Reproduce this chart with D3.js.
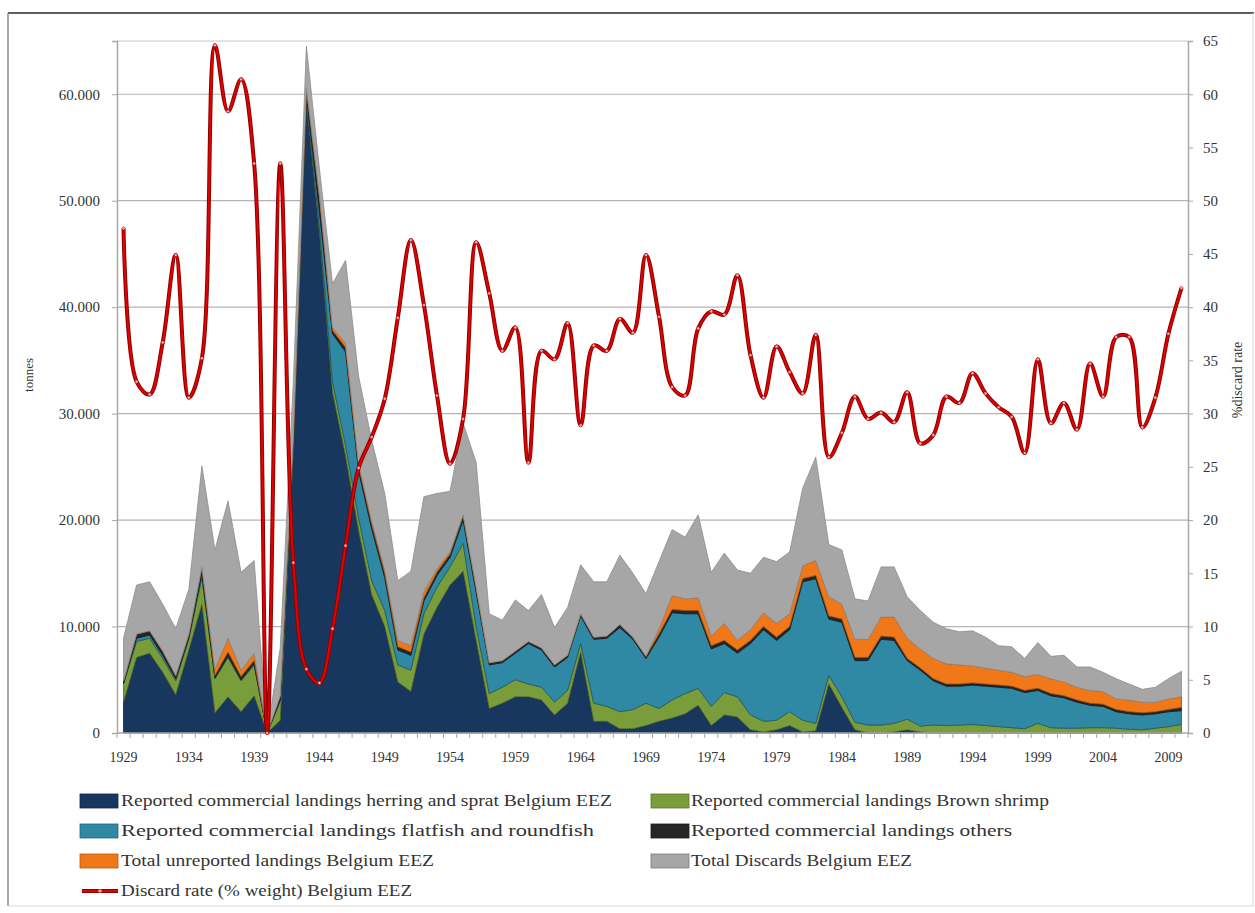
<!DOCTYPE html>
<html><head><meta charset="utf-8">
<script src="https://cdn.jsdelivr.net/npm/d3@7"></script>
<style>body{margin:0;background:#fff}</style>
</head><body><svg id="c" width="1255" height="913"></svg>
<script>
const years = [1929,1930,1931,1932,1933,1934,1935,1936,1937,1938,1939,1940,
1941,1942,1943,1944,1945,1946,1947,1948,1949,1950,
1951,1952,1953,1954,1955,1956,1957,1958,1959,1960,
1961,1962,1963,1964,1965,1966,1967,1968,1969,1970,
1971,1972,1973,1974,1975,1976,1977,1978,1979,1980,
1981,1982,1983,1984,1985,1986,1987,1988,1989,1990,
1991,1992,1993,1994,1995,1996,1997,1998,1999,2000,
2001,2002,2003,2004,2005,2006,2007,2008,2009,2010];

// tonnes
const herring = [2900,7100,7500,5700,3600,7800,12100,1900,3400,2000,3500,0,
1200,26500,59500,47000,32000,26000,19000,13000,10000,4800,
3900,9300,11800,13900,15200,8700,2300,2800,3400,3400,
3100,1700,2800,7600,1100,1100,400,400,700,1100,
1400,1800,2600,700,1700,1500,300,100,300,700,
100,200,4600,2400,300,0,0,100,300,100,
0,0,0,0,0,0,0,0,0,0,
0,0,0,0,0,0,0,0,0,0];
const shrimp = [1700,1500,1400,1300,1300,1000,2500,3200,3700,2900,2900,0,
1800,500,300,500,1000,1000,1200,1300,1500,1600,
2000,1900,1900,1700,2600,1300,1400,1500,1600,1200,
1200,1200,1200,800,1700,1400,1600,1800,2100,1200,
1700,1900,1600,1800,2100,1900,1400,1000,900,1300,
1100,700,800,1000,700,750,750,800,1000,550,
750,700,750,800,700,600,500,400,900,500,
450,450,500,500,450,350,300,450,600,800];
const flatfish = [100,300,300,300,200,200,400,100,100,100,100,0,
100,200,200,1500,4500,8800,4400,4900,3100,1400,
1400,1200,1100,900,2200,3200,2700,2300,2500,3800,
3500,3300,3100,2600,6000,6400,7900,6600,4200,6700,
8200,7500,7000,5400,4600,4100,6700,8600,7500,7700,
13000,13600,5300,7000,5800,6050,8050,7800,5500,5250,
4150,3700,3650,3700,3700,3700,3700,3400,3100,3000,
2850,2450,2100,2000,1550,1450,1400,1350,1400,1300];
const others = [200,400,400,400,300,300,600,200,400,300,300,0,
400,500,600,1300,300,400,400,400,400,300,
300,300,300,300,400,400,200,200,200,200,
200,200,200,200,200,200,300,200,200,300,
300,300,300,300,300,300,300,300,300,300,
300,300,300,300,300,300,300,300,200,200,
200,200,200,200,200,200,200,200,200,200,
200,200,200,200,200,200,200,200,200,300];
const unreported = [0,0,0,0,0,0,0,600,1300,600,700,0,
0,0,0,200,300,400,300,300,300,600,
600,600,300,200,100,100,0,0,0,0,
0,0,0,0,0,0,0,0,0,500,
1300,1100,1200,900,1600,900,1000,1300,1300,1200,
1200,1400,1800,1400,1700,1700,1800,1900,1900,1800,
1900,1900,1800,1600,1500,1400,1300,1300,1300,1400,
1300,1200,1200,1200,1000,1100,1000,900,1000,1000];
const discards = [4000,4600,4600,4400,4400,4200,9500,11200,12900,9200,8700,0,
4500,5300,3900,2500,4100,7800,8200,7600,7200,5600,
7000,8900,7100,5700,8600,11700,4600,3800,4800,2900,
5000,3500,4500,4600,5200,5100,6500,6000,5900,6300,
6200,5800,7800,6000,6600,6600,5300,5200,5800,5800,
7300,9700,4900,5100,3800,3600,4700,4700,3900,3600,
3400,3300,3100,3300,2900,2300,2400,1700,3000,2100,
2500,1900,2200,1800,1900,1500,1200,1400,1900,2400];
// % weight
const discardRate = [47.4,33.0,31.8,36.7,44.9,31.5,35.2,64.6,58.4,61.4,53.5,0,
53.5,16.0,6.0,4.7,9.8,17.6,24.9,27.8,31.4,39.0,
46.3,40.2,31.7,25.3,29.5,46.1,41.3,35.9,38.1,25.4,
35.9,35.1,38.5,28.9,36.4,35.9,38.9,37.6,44.9,39.1,
32.5,31.7,38.0,39.6,39.3,43.0,35.5,31.5,36.3,33.9,
31.9,37.4,25.9,28.2,31.6,29.5,30.1,29.2,32.0,27.2,
28.0,31.6,31.0,33.8,31.9,30.6,29.7,26.3,35.1,29.1,
31.0,28.5,34.7,31.6,37.2,37.2,28.7,31.5,37.5,41.8];

const xTickLabels = [1929,1934,1939,1944,1949,1954,1959,1964,1969,1974,1979,1984,1989,1994,1999,2004,2009];
const leftTicks = [0,10000,20000,30000,40000,50000,60000];
const rightTicks = [0,5,10,15,20,25,30,35,40,45,50,55,60,65];

const seriesNames = [
  "Reported commercial landings herring and sprat Belgium EEZ",
  "Reported commercial landings Brown shrimp",
  "Reported commercial landings flatfish and roundfish",
  "Reported commercial landings others",
  "Total unreported landings Belgium EEZ",
  "Total Discards Belgium EEZ"
];
const lineName = "Discard rate (% weight) Belgium EEZ";
const keys = ["herring","shrimp","flatfish","others","unreported","discards"];
const colors = ["#17375e","#7a9d3c","#2f88a4","#262626","#f07818","#a6a6a6"];

const svg = d3.select("#c");
const M = {left:117, right:1188, top:41, bottom:733};
const x = d3.scalePoint().domain(years).range([M.left, M.right]).padding(0.5);
const yL = d3.scaleLinear().domain([0,65000]).range([M.bottom, M.top]);
const yR = d3.scaleLinear().domain([0,65]).range([M.bottom, M.top]);

// outer frame
svg.append("line").attr("x1",8).attr("x2",1254).attr("y1",13).attr("y2",13).attr("stroke","#5e5e5e").attr("stroke-width",2);
svg.append("line").attr("x1",8).attr("x2",8).attr("y1",13).attr("y2",906).attr("stroke","#8a8a8a").attr("stroke-width",1.5);
svg.append("line").attr("x1",1253).attr("x2",1253).attr("y1",13).attr("y2",906).attr("stroke","#d8d8d8").attr("stroke-width",1);
svg.append("line").attr("x1",8).attr("x2",1254).attr("y1",906).attr("y2",906).attr("stroke","#d8d8d8").attr("stroke-width",1);

// gridlines
svg.append("g").selectAll("line").data(leftTicks.filter(d=>d>0)).join("line")
  .attr("x1",M.left).attr("x2",M.right).attr("y1",d=>yL(d)).attr("y2",d=>yL(d))
  .attr("stroke","#b4b4b4").attr("stroke-width",1.2);
svg.append("line").attr("x1",M.left).attr("x2",M.right).attr("y1",M.top).attr("y2",M.top)
  .attr("stroke","#dadada").attr("stroke-width",1.5);

// stacked areas
const table = years.map((yr,i)=>({year:yr, herring:herring[i], shrimp:shrimp[i], flatfish:flatfish[i],
  others:others[i], unreported:unreported[i], discards:discards[i]}));
const stacked = d3.stack().keys(keys)(table);
const area = d3.area().x(d=>x(d.data.year)).y0(d=>yL(d[0])).y1(d=>yL(d[1]));
svg.append("g").selectAll("path").data(stacked).join("path")
  .attr("d",area).attr("fill",(d,i)=>colors[i])
  .attr("stroke",(d,i)=> i===5 ? "#8c8c8c" : d3.color(colors[i]).darker(1.3))
  .attr("stroke-width",1).attr("stroke-opacity",0.8).attr("stroke-linejoin","round");

// axes
const fontF = "'Liberation Serif', 'DejaVu Serif', serif";
const axL = svg.append("g").attr("transform",`translate(${M.left},0)`)
  .call(d3.axisLeft(yL).tickValues(leftTicks).tickSize(5).tickPadding(12)
    .tickFormat(d=> d===0 ? "0" : d3.format(",")(d).replace(",",".")));
const axR = svg.append("g").attr("transform",`translate(${M.right},0)`)
  .call(d3.axisRight(yR).tickValues(rightTicks).tickSize(5).tickPadding(10));
[axL, axR].forEach(g=>{
  g.select(".domain").attr("stroke","#a8a8a8").attr("stroke-width",1.5);
  g.selectAll(".tick line").attr("stroke","#a8a8a8");
  g.selectAll("text").attr("font-family",fontF).attr("font-size",15).attr("fill","#333");
});

// bottom axis (category boundaries)
const step = x.step();
const bounds = years.map(y=>x(y)-step/2).concat([x(years[years.length-1])+step/2]);
svg.append("line").attr("x1",M.left).attr("x2",M.right).attr("y1",M.bottom).attr("y2",M.bottom)
  .attr("stroke","#a8a8a8").attr("stroke-width",1.5);
svg.append("g").selectAll("line").data(bounds).join("line")
  .attr("x1",d=>d).attr("x2",d=>d).attr("y1",M.bottom).attr("y2",M.bottom+5)
  .attr("stroke","#a8a8a8");
svg.append("g").selectAll("text").data(xTickLabels).join("text")
  .attr("x",d=>x(d)).attr("y",762).attr("text-anchor","middle")
  .attr("font-family",fontF).attr("font-size",14).attr("fill","#333").text(d=>d);

// axis titles
svg.append("text").attr("transform","translate(33,375) rotate(-90)").attr("text-anchor","middle")
  .attr("font-family",fontF).attr("font-size",13).attr("fill","#333").text("tonnes");
svg.append("text").attr("transform","translate(1242,380) rotate(-90)").attr("text-anchor","middle")
  .attr("font-family",fontF).attr("font-size",14).attr("fill","#333").text("%discard rate");

// discard rate line
const line = d3.line().x((d,i)=>x(years[i])).y(d=>yR(d)).curve(d3.curveCatmullRom.alpha(0.5));
svg.append("path").attr("d",line(discardRate)).attr("fill","none").attr("stroke","#8a0000").attr("stroke-width",4).attr("stroke-linejoin","round");
svg.append("path").attr("d",line(discardRate)).attr("fill","none").attr("stroke","#e30000").attr("stroke-width",2).attr("stroke-linejoin","round");
svg.append("g").selectAll("circle").data(discardRate).join("circle")
  .attr("cx",(d,i)=>x(years[i])).attr("cy",d=>yR(d)).attr("r",1.6)
  .attr("fill","#f3b0b0").attr("stroke","#b00000").attr("stroke-width",0.5);

// legend
const legendPos = [
  {sx:80, tx:121, y:801, w:491}, {sx:651, tx:691, y:801, w:358},
  {sx:80, tx:121, y:831, w:473}, {sx:651, tx:691, y:831, w:321},
  {sx:80, tx:121, y:861, w:313}, {sx:651, tx:691, y:861, w:221}
];
const lg = svg.append("g");
seriesNames.forEach((name,i)=>{
  const p = legendPos[i];
  lg.append("rect").attr("x",p.sx).attr("y",p.y-7).attr("width",38).attr("height",14)
    .attr("fill",colors[i]).attr("stroke",d3.color(colors[i]).darker(0.8)).attr("stroke-width",0.8);
  lg.append("text").attr("x",p.tx).attr("y",p.y+5).attr("font-family",fontF).attr("font-size",16)
    .attr("fill","#333").attr("textLength",p.w).attr("lengthAdjust","spacingAndGlyphs").text(name);
});
lg.append("line").attr("x1",82).attr("x2",118).attr("y1",891).attr("y2",891).attr("stroke","#8a0000").attr("stroke-width",4);
lg.append("line").attr("x1",82).attr("x2",118).attr("y1",891).attr("y2",891).attr("stroke","#e30000").attr("stroke-width",2);
lg.append("circle").attr("cx",100).attr("cy",891).attr("r",1.8).attr("fill","#f3b0b0");
lg.append("text").attr("x",121).attr("y",896).attr("font-family",fontF).attr("font-size",16)
  .attr("fill","#333").attr("textLength",291).attr("lengthAdjust","spacingAndGlyphs").text(lineName);
</script>
</body></html>
